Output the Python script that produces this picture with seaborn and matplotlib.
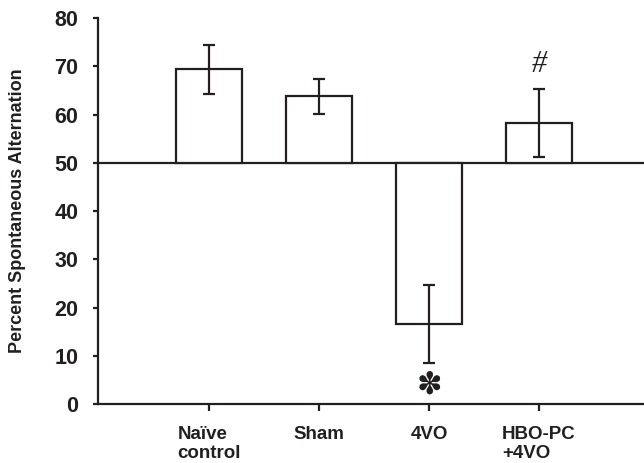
import matplotlib
matplotlib.use("Agg")
import matplotlib.pyplot as plt
import seaborn as sns
import pandas as pd

categories = ["Naïve\ncontrol", "Sham", "4VO", "HBO-PC\n+4VO"]
values = [69.4, 63.8, 16.6, 58.2]
sem = [5.1, 3.65, 8.1, 7.0]
baseline = 50
yticks = [0, 10, 20, 30, 40, 50, 60, 70, 80]
ylabel = "Percent Spontaneous Alternation"
marks = ["", "", "✽", "#"]
mark_y = [None, None, 3.9, 70.3]

sns.set_style("ticks")
plt.rcParams['font.family'] = ['Liberation Sans', 'DejaVu Sans']

ink = "#231f20"
lw = 1.6

df = pd.DataFrame({"group": categories,
                   "delta": [v - baseline for v in values]})

fig = plt.figure(figsize=(6.44, 4.63), dpi=100)
ax = fig.add_axes([0.1514, 0.1274, 0.8486, 0.8337])

sns.barplot(data=df, x="group", y="delta", order=categories, ax=ax,
            errorbar=None, width=0.6, bottom=baseline,
            facecolor="white", edgecolor=ink, linewidth=lw, zorder=2)

ax.errorbar(range(len(categories)), values, yerr=sem, fmt="none",
            ecolor=ink, elinewidth=lw, capsize=4.3, capthick=lw, zorder=3)

ax.axhline(baseline, color=ink, lw=lw, zorder=1.5)

for i, (m, my) in enumerate(zip(marks, mark_y)):
    if not m:
        continue
    if m == "#":
        ax.text(i, my, m, ha="center", va="center", fontsize=22,
                family=["Liberation Serif", "DejaVu Serif"], style="italic",
                color=ink)
    else:
        ax.text(i, my, m, ha="center", va="center", fontsize=22,
                family=["DejaVu Sans"], color=ink)

ax.set_ylim(0, 80)
ax.set_xlim(-1.014, 3.955)
ax.set_yticks(yticks)
ax.set_yticklabels([str(t) for t in yticks], fontsize=15.5, fontweight="bold",
                   color=ink)
ax.set_xticks(range(len(categories)))
ax.set_xticklabels(categories, fontsize=13.5, fontweight="bold", color=ink,
                   multialignment="left", linespacing=1.2)
ax.set_xlabel("")
ax.set_ylabel(ylabel, fontsize=13, fontweight="bold", color=ink)
ax.yaxis.set_label_coords(-0.130, 0.5)

ax.tick_params(axis="y", direction="out", length=3.6, width=lw, pad=10,
               color=ink)
ax.tick_params(axis="x", direction="out", length=5, width=lw, pad=10.5,
               color=ink)

for s in ["top", "right"]:
    ax.spines[s].set_visible(False)
for s in ["left", "bottom"]:
    ax.spines[s].set_linewidth(lw)
    ax.spines[s].set_color(ink)

fig.savefig("out.png", dpi=100)
